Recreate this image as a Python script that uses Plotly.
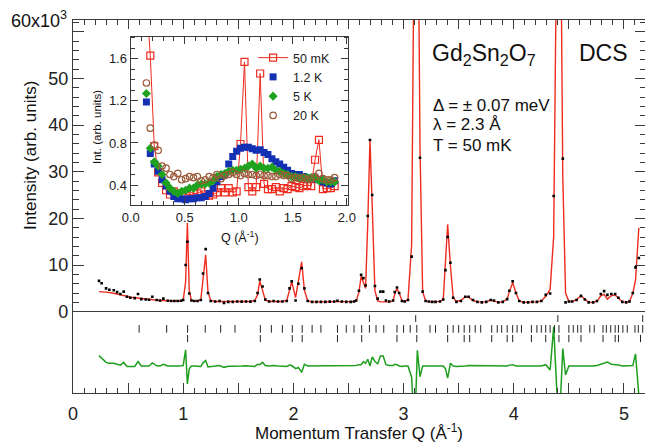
import numpy as np
import plotly.graph_objects as go

# ---------------- main powder pattern (intensity in units of 10^3) ----------------
q_main = [0.236, 0.26, 0.30, 0.33, 0.37, 0.40, 0.43, 0.46, 0.49, 0.52, 0.56, 0.59, 0.62, 0.66, 0.69,
          0.72, 0.76, 0.79, 0.82, 0.86, 0.89, 0.92, 0.95, 0.98, 1.00, 1.022, 1.038, 1.055, 1.075, 1.10,
          1.13, 1.16, 1.18, 1.204, 1.225, 1.25, 1.29, 1.33, 1.37, 1.41, 1.45, 1.49, 1.53, 1.57, 1.61,
          1.65, 1.675, 1.695, 1.72, 1.745, 1.78, 1.82, 1.86, 1.90, 1.94, 1.965, 1.985, 2.02, 2.045, 2.075,
          2.10, 2.13, 2.17, 2.21, 2.25, 2.29, 2.33, 2.37, 2.40, 2.44, 2.48, 2.52, 2.55, 2.57, 2.595,
          2.615, 2.635, 2.655, 2.675, 2.695, 2.715, 2.74, 2.765, 2.79, 2.815, 2.84, 2.87, 2.905, 2.92, 2.94,
          2.96, 2.985, 3.01, 3.04, 3.073, 3.10, 3.125, 3.149, 3.173, 3.20, 3.23, 3.26, 3.29, 3.33, 3.36,
          3.38, 3.40, 3.425, 3.45, 3.48, 3.52, 3.56, 3.59, 3.63, 3.67, 3.71, 3.75, 3.79, 3.82, 3.86,
          3.90, 3.94, 3.96, 3.99, 4.02, 4.05, 4.09, 4.13, 4.17, 4.21, 4.25, 4.29, 4.33, 4.362, 4.41,
          4.445, 4.47, 4.50, 4.53, 4.57, 4.61, 4.645, 4.68, 4.72, 4.755, 4.79, 4.82, 4.85, 4.885, 4.92,
          4.95, 4.985, 5.02, 5.05, 5.08, 5.105, 5.135]
obs_main = [6.6, 6.1, 5.0, 4.7, 4.6, 4.2, 3.8, 4.3, 3.2, 3.0, 2.9, 3.8, 2.7, 2.6, 2.55,
            3.2, 2.5, 2.4, 2.8, 2.35, 2.3, 2.3, 2.3, 2.35, 2.5, 10.0, 15.0, 3.9, 2.4, 2.3,
            2.3, 2.5, 8.2, 13.4, 4.0, 2.3, 2.2, 2.3, 1.9, 2.1, 2.1, 2.2, 2.15, 2.2, 2.15,
            2.3, 4.0, 6.9, 5.4, 2.6, 2.2, 2.3, 2.2, 2.2, 2.3, 5.0, 6.5, 2.4, 6.0, 9.3,
            5.0, 2.3, 2.1, 2.1, 2.1, 2.1, 2.15, 2.2, 2.35, 2.2, 2.1, 2.1, 2.2, 2.4, 4.5,
            7.9, 7.2, 5.6, 20.5, 36.8, 25.0, 5.5, 2.8, 4.3, 4.3, 2.4, 2.2, 2.4, 4.2, 5.2,
            4.0, 2.3, 2.2, 2.5, 11.8, 80.0, 111.5, 33.0, 4.3, 2.3, 2.2, 2.1, 2.1, 2.2, 2.6,
            8.9, 16.0, 10.5, 3.0, 2.1, 2.3, 3.2, 3.2, 2.5, 2.1, 2.0, 2.1, 2.5, 2.4, 2.0,
            2.1, 2.7, 4.5, 6.5, 4.0, 2.3, 2.0, 2.0, 2.1, 2.1, 2.3, 3.6, 3.9, 24.8, 115.0,
            32.8, 2.0, 2.2, 2.2, 2.5, 3.4, 2.6, 2.0, 2.0, 2.3, 3.8, 4.4, 3.6, 3.8, 3.8,
            3.0, 2.1, 2.0, 2.2, 4.0, 9.5, 11.5]
fit_main = [4.3, 4.3, 4.2, 4.1, 4.0, 3.8, 3.6, 3.5, 3.3, 3.1, 3.0, 2.8, 2.7, 2.6, 2.55,
            2.5, 2.45, 2.4, 2.4, 2.35, 2.35, 2.3, 2.3, 2.3, 2.4, 6.4, 19.0, 4.5, 2.4, 2.3,
            2.3, 2.6, 7.5, 12.2, 4.2, 2.4, 2.2, 2.2, 2.2, 2.15, 2.15, 2.15, 2.15, 2.15, 2.2,
            2.4, 3.6, 6.6, 4.6, 2.5, 2.2, 2.2, 2.2, 2.2, 2.4, 4.8, 6.4, 3.0, 6.3, 10.7,
            4.6, 2.3, 2.1, 2.1, 2.1, 2.1, 2.1, 2.15, 2.25, 2.15, 2.1, 2.1, 2.2, 2.3, 4.2,
            7.6, 6.2, 5.0, 19.0, 36.8, 23.0, 4.5, 2.3, 2.1, 2.1, 2.1, 2.1, 2.3, 3.8, 4.9,
            4.0, 2.4, 2.2, 2.5, 14.3, 95.0, 108.0, 35.4, 4.3, 2.3, 2.1, 2.1, 2.1, 2.2, 2.6,
            9.5, 18.7, 9.9, 3.0, 2.2, 2.4, 3.2, 3.1, 2.4, 2.1, 2.05, 2.1, 2.5, 2.3, 2.0,
            2.1, 2.7, 4.3, 6.2, 4.0, 2.3, 2.0, 2.0, 2.05, 2.1, 2.3, 3.3, 4.8, 16.1, 130.0,
            28.9, 4.0, 2.2, 2.2, 2.6, 3.4, 2.6, 2.0, 2.0, 2.2, 3.4, 3.7, 2.7, 3.4, 3.6,
            2.8, 2.1, 2.0, 2.2, 3.9, 6.8, 18.0]

# reflection markers (Q positions)
ticks_al = [2.69, 3.11, 4.40, 5.17]
ticks_all = [0.60, 0.85, 1.04, 1.20, 1.34, 1.47, 1.70, 1.80, 1.90, 1.99, 2.08, 2.17, 2.25, 2.40, 2.48,
             2.55, 2.62, 2.69, 2.75, 2.82, 2.94, 3.00, 3.06, 3.12, 3.24, 3.29, 3.40, 3.45, 3.50, 3.55,
             3.60, 3.65, 3.70, 3.80, 3.85, 3.89, 3.94, 3.99, 4.03, 4.07, 4.16, 4.21, 4.25, 4.29, 4.33,
             4.37, 4.41, 4.50, 4.54, 4.58, 4.61, 4.69, 4.73, 4.81, 4.84, 4.88, 4.92, 4.95, 4.99, 5.03,
             5.10, 5.13, 5.17]
ticks_nuc = [1.04, 1.70, 1.99, 2.08, 2.40, 2.62, 2.94, 3.12, 3.40, 3.55, 3.60, 3.80, 3.94, 3.99, 4.16,
             4.29, 4.41, 4.50, 4.61, 4.81, 4.92, 4.95, 5.15]

# ---------------- inset: low-Q temperature dependence ----------------
q_inset = [0.145, 0.181, 0.218, 0.254, 0.290, 0.327, 0.363, 0.399, 0.435, 0.472, 0.508, 0.544, 0.581,
           0.617, 0.653, 0.690, 0.726, 0.762, 0.798, 0.835, 0.871, 0.907, 0.944, 0.980, 1.016, 1.053,
           1.089, 1.125, 1.161, 1.198, 1.234, 1.270, 1.307, 1.343, 1.379, 1.416, 1.452, 1.488, 1.524,
           1.561, 1.597, 1.633, 1.670, 1.706, 1.742, 1.779, 1.815, 1.851, 1.887]
i_50mk = [2.20, 1.63, 0.77, 0.52, 0.42, 0.35, 0.31, 0.34, 0.31, 0.32, 0.31, 0.34, 0.32, 0.32, 0.34,
          0.31, 0.30, 0.31, 0.33, 0.37, 0.33, 0.37, 0.33, 0.34, 0.79, 1.57, 0.38, 0.34, 0.38, 1.46,
          0.41, 0.36, 0.36, 0.38, 0.34, 0.37, 0.36, 0.39, 0.38, 0.37, 0.39, 0.40, 0.39, 0.64, 0.83,
          0.36, 0.37, 0.37, 0.39]
i_1p2k = [1.19, 0.70, 0.60, 0.53, 0.45, 0.39, 0.34, 0.29, 0.27, 0.27, 0.26, 0.27, 0.27, 0.28, 0.28,
          0.29, 0.32, 0.37, 0.43, 0.48, 0.50, 0.60, 0.67, 0.72, 0.75, 0.76, 0.76, 0.745, 0.73, 0.735,
          0.71, 0.69, 0.65, 0.62, 0.60, 0.57, 0.54, 0.51, 0.50, 0.50, 0.48, 0.47, 0.46, 0.46, 0.45,
          0.43, 0.42, 0.41, 0.44]
i_5k = [1.27, 0.75, 0.62, 0.58, 0.50, 0.42, 0.37, 0.34, 0.32, 0.34, 0.35, 0.37, 0.37, 0.40, 0.41,
        0.41, 0.42, 0.44, 0.48, 0.50, 0.51, 0.53, 0.54, 0.54, 0.55, 0.56, 0.58, 0.60, 0.56, 0.58,
        0.56, 0.56, 0.57, 0.54, 0.53, 0.51, 0.50, 0.48, 0.48, 0.47, 0.47, 0.47, 0.47, 0.47, 0.44,
        0.45, 0.43, 0.43, 0.43]
i_20k = [1.37, 0.94, 0.78, 0.73, 0.58, 0.56, 0.50, 0.48, 0.51, 0.45, 0.46, 0.48, 0.47, 0.48, 0.44,
         0.45, 0.48, 0.47, 0.50, 0.46, 0.49, 0.50, 0.52, 0.50, 0.49, 0.51, 0.50, 0.50, 0.49, 0.50,
         0.49, 0.49, 0.48, 0.48, 0.50, 0.49, 0.49, 0.46, 0.47, 0.46, 0.47, 0.45, 0.46, 0.48, 0.51,
         0.46, 0.45, 0.45, 0.47]
inset_labels = ["50 mK", "1.2 K", "5 K", "20 K"]

main_yticks = [0, 10, 20, 30, 40, 50, 60]
main_ytick_text = ["0", "10", "20", "30", "40", "50", ""]
main_xticks = [0, 0.5, 1, 1.5, 2, 2.5, 3, 3.5, 4, 4.5, 5]
main_xtick_text = ["0", "", "1", "", "2", "", "3", "", "4", "", "5"]
inset_xticks = [0, 0.5, 1.0, 1.5, 2.0]
inset_yticks = [0.4, 0.8, 1.2, 1.6]

# ---------------- geometry (page pixels; page body has an 8 px margin) ----------------
OFF = 8
PW, PH = 653, 446
W, H = PW - OFF, PH - OFF
L, R, T, B = 73, 645.7, 20, 393
def px(x):
    return (x - L) / (R - L)
def py(y):
    return (B - y) / (B - T)

FONT = "Arial, 'Liberation Sans', Helvetica, sans-serif"
AX = "#3a3a3a"
RED = "#ee2b1e"

diff = np.array(obs_main) - np.array(fit_main)

fig = go.Figure()
fig.add_trace(go.Scatter(x=q_main, y=fit_main, mode="lines", line=dict(color=RED, width=1.4),
                         showlegend=False, xaxis="x2", yaxis="y"))
fig.add_trace(go.Scatter(x=q_main, y=obs_main, mode="markers",
                         marker=dict(color="black", size=2.6, symbol="square"),
                         showlegend=False, xaxis="x2", yaxis="y"))
fig.add_trace(go.Scatter(x=q_main, y=diff, mode="lines", line=dict(color="#1f9e1f", width=1.5),
                         showlegend=False, xaxis="x", yaxis="y2"))

def tick_trace(qs, y0, y1):
    xs, ys = [], []
    for q in qs:
        xs += [q, q, None]
        ys += [y0, y1, None]
    return go.Scatter(x=xs, y=ys, mode="lines", line=dict(color="#222", width=1),
                      showlegend=False, xaxis="x", yaxis="y2", hoverinfo="skip")

# lower panel: zero of residual at 366 px, 4.5 px per 10^3
fig.add_trace(tick_trace(ticks_al, 11.3, 9.8))
fig.add_trace(tick_trace(ticks_all, 9.1, 7.4))
fig.add_trace(tick_trace(ticks_nuc, 6.9, 5.3))

# inset
fig.add_trace(go.Scatter(x=q_inset, y=i_50mk, name=inset_labels[0], mode="lines+markers",
                         line=dict(color=RED, width=1),
                         marker=dict(symbol="square-open", size=7, color=RED, line=dict(width=1.2)),
                         xaxis="x3", yaxis="y3"))
fig.add_trace(go.Scatter(x=q_inset, y=i_1p2k, name=inset_labels[1], mode="markers",
                         marker=dict(symbol="square", size=7, color="#1431b4"),
                         xaxis="x3", yaxis="y3"))
fig.add_trace(go.Scatter(x=q_inset, y=i_5k, name=inset_labels[2], mode="markers",
                         marker=dict(symbol="diamond", size=7, color="#1fa31f"),
                         xaxis="x3", yaxis="y3"))
fig.add_trace(go.Scatter(x=q_inset, y=i_20k, name=inset_labels[3], mode="markers",
                         marker=dict(symbol="circle-open", size=6.5, color="#9b5b3b", line=dict(width=1.2)),
                         xaxis="x3", yaxis="y3"))

split = py(311.7)
common = dict(showgrid=False, zeroline=False, linecolor=AX, linewidth=1.3, tickcolor=AX,
              tickwidth=1.1, automargin=False)

fig.update_layout(
    template="none",
    width=W, height=H,
    margin=dict(l=L - OFF, r=PW - R, t=T - OFF, b=PH - B, pad=0),
    paper_bgcolor="white", plot_bgcolor="white",
    font=dict(family=FONT, color="#222", size=14),
    xaxis=dict(domain=[0, 1], anchor="y2", range=[0, 5.2], tickvals=main_xticks, ticktext=main_xtick_text,
               ticks="inside", ticklen=10, minor=dict(dtick=0.1, ticks="inside", ticklen=5, tickcolor=AX),
               showline=True, mirror=True, tickfont=dict(size=18), ticklabelstandoff=4, **common),
    xaxis2=dict(domain=[0, 1], anchor="y", matches="x", side="top", range=[0, 5.2], tickvals=main_xticks,
                ticks="inside", ticklen=9, minor=dict(dtick=0.1, ticks="inside", ticklen=5, tickcolor=AX),
                showline=True, mirror=False, showticklabels=False, **common),
    yaxis=dict(domain=[split, 1], anchor="x2", range=[0, 62.5], tickvals=main_yticks, ticktext=main_ytick_text,
               ticks="inside", ticklen=11, minor=dict(dtick=2, ticks="inside", ticklen=6, tickcolor=AX),
               showline=True, mirror="ticks", tickfont=dict(size=18), **common),
    yaxis2=dict(domain=[0, split], anchor="x", range=[-6.0, 12.07], showline=True, mirror=True,
                ticks="", showticklabels=False, **common),
    xaxis3=dict(domain=[px(130.7), px(348.3)], anchor="y3", range=[0, 2.015], tickvals=inset_xticks,
                tickformat=".1f", ticks="inside", ticklen=7,
                minor=dict(dtick=0.1, ticks="inside", ticklen=4, tickcolor=AX),
                showline=True, mirror="ticks", tickfont=dict(size=13), **common),
    yaxis3=dict(domain=[py(205), py(36.7)], anchor="x3", range=[0.21, 1.81], tickvals=inset_yticks,
                tickformat=".1f", ticks="inside", ticklen=7,
                minor=dict(dtick=0.1, ticks="inside", ticklen=4, tickcolor=AX),
                showline=True, mirror="ticks", tickfont=dict(size=13), **common),
    legend=dict(x=px(253), y=py(43), xanchor="left", yanchor="top", bgcolor="rgba(0,0,0,0)",
                font=dict(size=12.5), tracegroupgap=0),
)

def ann(text, x, y, size, xanchor="left", yanchor="middle", angle=0):
    fig.add_annotation(text=text, x=px(x), y=py(y), xref="paper", yref="paper", showarrow=False,
                       xanchor=xanchor, yanchor=yanchor, textangle=angle,
                       font=dict(size=size, family=FONT, color="#111"))

ann("Gd<sub>2</sub>Sn<sub>2</sub>O<sub>7</sub>", 430, 55, 23)
ann("DCS", 577, 53, 23)
ann("Δ = ± 0.07 meV", 431, 105, 17)
ann("λ = 2.3 Å", 431, 125, 17)
ann("T = 50 mK", 431, 145, 17)
ann("60x10<sup>3</sup>", 69, 19, 18, xanchor="right")
ann("Intensity (arb. units)", 30, 155, 17, xanchor="center", angle=-90)
ann("Momentum Transfer Q (Å<sup>-1</sup>)", 359, 432, 17, xanchor="center")
ann("Int. (arb. units)", 97, 127, 11.5, xanchor="center", angle=-90)
ann("Q (Å<sup>-1</sup>)", 240, 237, 12.5, xanchor="center")

fig.write_html("out.html")
